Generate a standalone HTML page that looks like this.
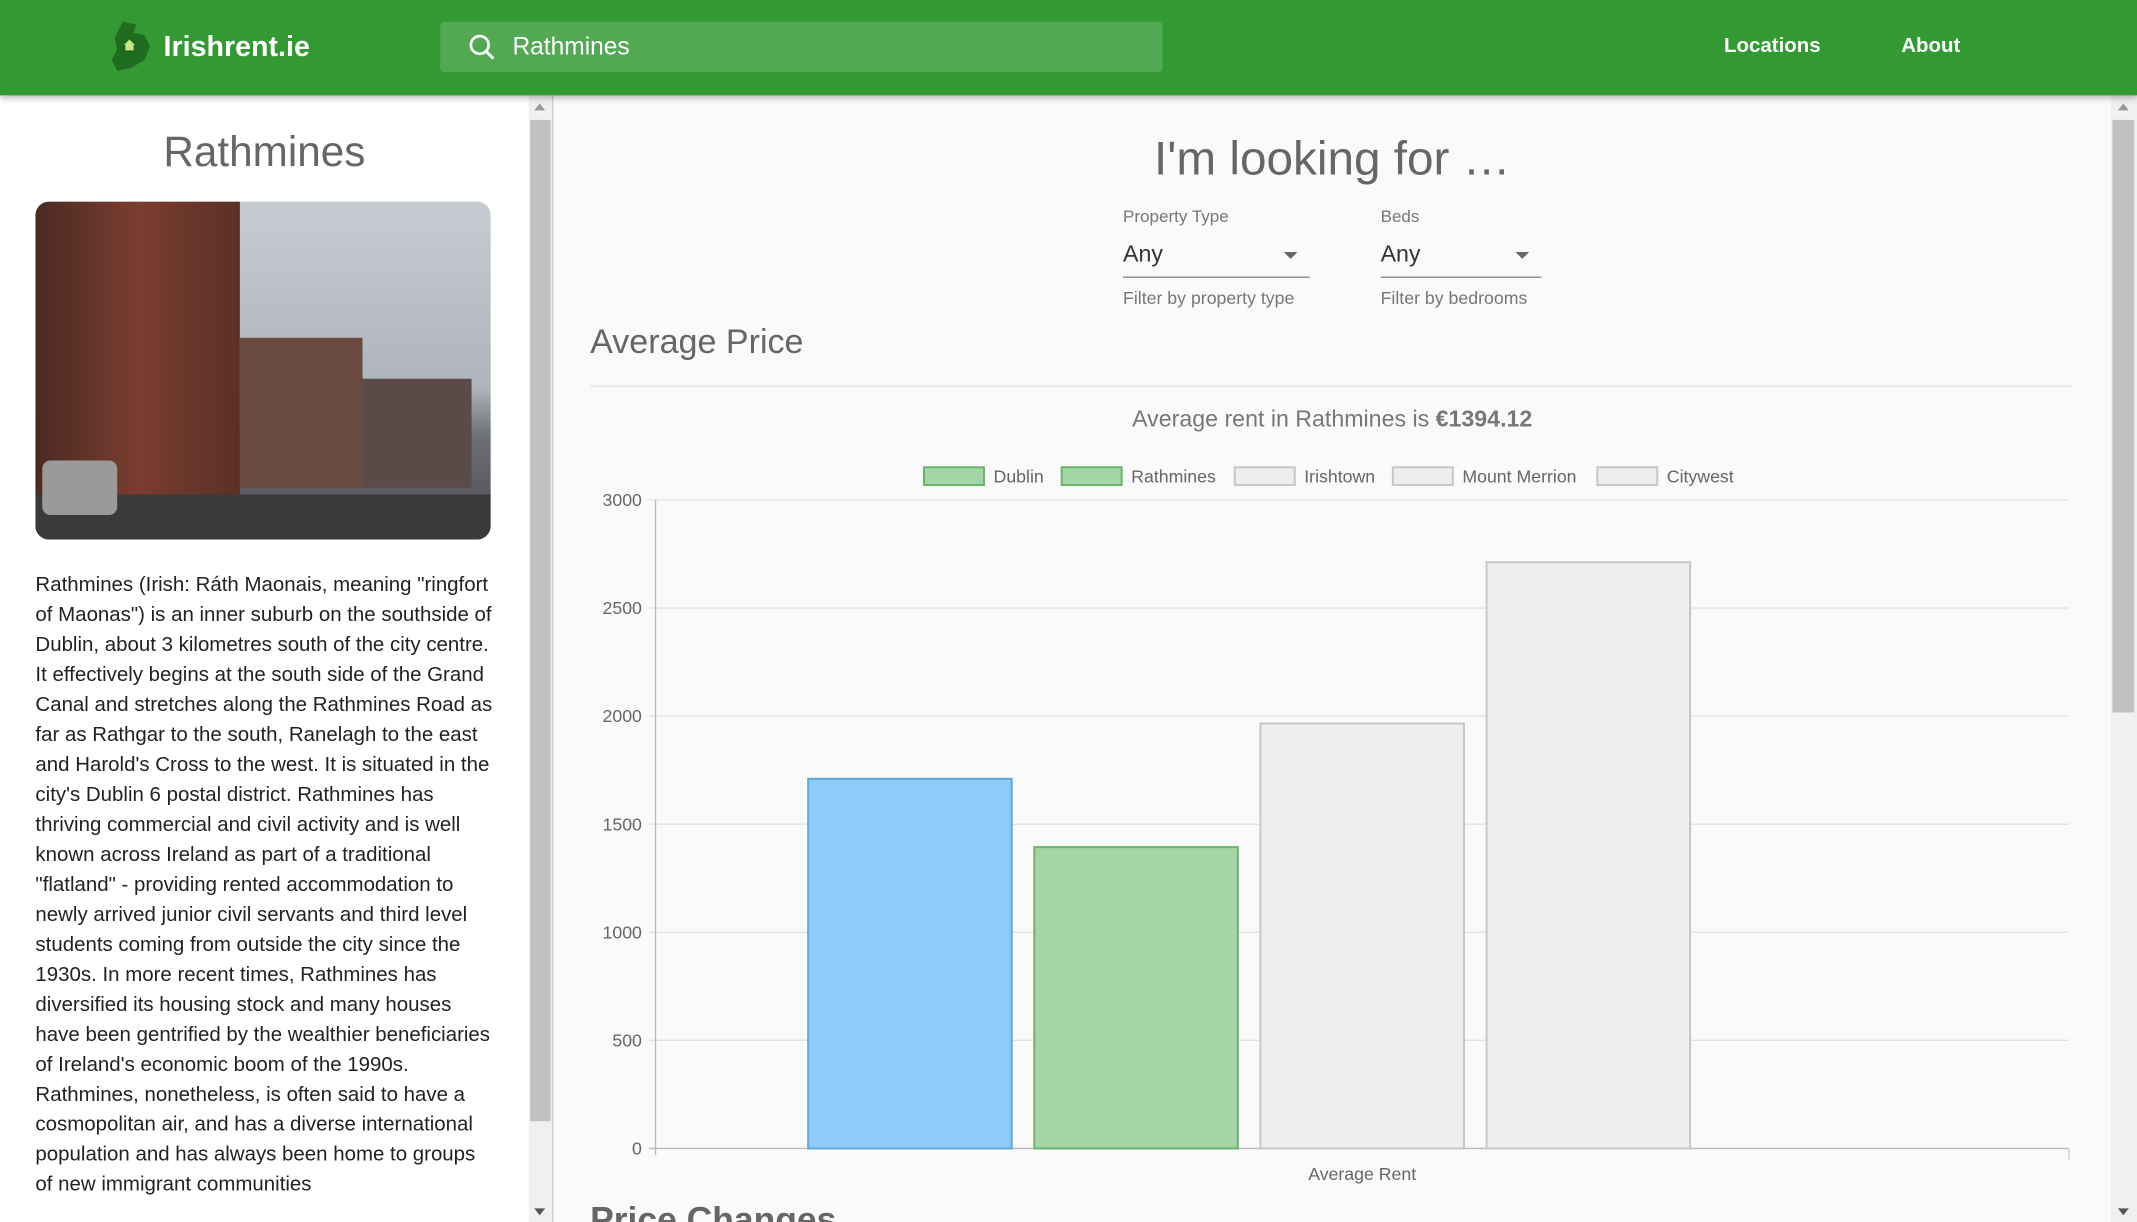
<!DOCTYPE html>
<html><head><meta charset="utf-8"><style>
html,body{margin:0;padding:0;width:2137px;height:1222px;overflow:hidden;background:#fafafa;font-family:"Liberation Sans",sans-serif}
#wrap{position:absolute;left:0;top:0;width:1568px;height:897px;transform:scale(1.36288,1.36232);transform-origin:0 0;overflow:hidden}
.abs{position:absolute}
</style></head><body>
<div id="wrap">
<div class="abs" style="left:0;top:0;width:1568px;height:70px;background:#339933;box-shadow:0 2px 5px rgba(0,0,0,.3);z-index:2">
  <div class="abs" style="left:80px;top:14px;width:180px;height:40px">
    <svg width="34" height="40" viewBox="0 0 34 40"><path d="M10 2 L20 4 L18 10 L26 12 L30 20 L26 30 L16 36 L6 38 L2 30 L6 22 L4 14 Z" fill="#1f6b1f"/><path d="M15 15 L19 19 L18 19 L18 23 L12 23 L12 19 L11 19 Z" fill="#c8e682"/></svg>
    <span class="abs" style="left:40px;top:9px;color:#fff;font-weight:bold;font-size:21px">Irishrent.ie</span>
  </div>
  <div class="abs" style="left:323px;top:16px;width:530px;height:37px;background:#53a853;border-radius:3px">
    <svg class="abs" style="left:20px;top:8px" width="22" height="22" viewBox="0 0 22 22"><circle cx="9" cy="9" r="6.5" stroke="#fff" stroke-width="2" fill="none"/><line x1="14" y1="14" x2="19" y2="19" stroke="#fff" stroke-width="2.2"/></svg>
    <span class="abs" style="left:53px;top:8px;color:#fff;font-size:18px">Rathmines</span>
  </div>
  <span class="abs" style="left:1265px;top:25px;color:#fff;font-weight:bold;font-size:15px">Locations</span>
  <span class="abs" style="left:1395px;top:25px;color:#fff;font-weight:bold;font-size:15px">About</span>
</div>
<div class="abs" style="left:0;top:70px;width:388px;height:827px;background:#fff;overflow:hidden">
  <div class="abs" style="left:0;top:24px;width:388px;text-align:center;font-size:31px;color:#666">Rathmines</div>
  <div class="abs" style="left:26px;top:78px;width:334px;height:248px;border-radius:10px;overflow:hidden;background:linear-gradient(#c7ccd2,#aeb4bb 55%,#6b6e73 70%,#4a4b4e)">
    <div class="abs" style="left:0;top:0;width:150px;height:248px;background:linear-gradient(90deg,#4a2a22,#7a3d30 50%,#5a3026)"></div>
    <div class="abs" style="left:150px;top:100px;width:90px;height:110px;background:#6a4a40"></div>
    <div class="abs" style="left:240px;top:130px;width:80px;height:80px;background:#5a4a48"></div>
    <div class="abs" style="left:0;top:215px;width:334px;height:33px;background:#3a3a3c"></div>
    <div class="abs" style="left:5px;top:190px;width:55px;height:40px;background:#9a9a9a;border-radius:6px"></div>
  </div>
  <div class="abs" style="left:26px;top:349px;width:336px;font-size:15px;line-height:22px;color:#222">Rathmines (Irish: Ráth Maonais, meaning "ringfort of Maonas") is an inner suburb on the southside of Dublin, about 3 kilometres south of the city centre. It effectively begins at the south side of the Grand Canal and stretches along the Rathmines Road as far as Rathgar to the south, Ranelagh to the east and Harold's Cross to the west. It is situated in the city's Dublin 6 postal district. Rathmines has thriving commercial and civil activity and is well known across Ireland as part of a traditional "flatland" - providing rented accommodation to newly arrived junior civil servants and third level students coming from outside the city since the 1930s. In more recent times, Rathmines has diversified its housing stock and many houses have been gentrified by the wealthier beneficiaries of Ireland's economic boom of the 1990s. Rathmines, nonetheless, is often said to have a cosmopolitan air, and has a diverse international population and has always been home to groups of new immigrant communities</div>
</div>
<div class="abs" style="left:388px;top:70px;width:17px;height:827px;background:#f0f0f0;border-right:1px solid #ccc"><div class="abs" style="left:1px;top:18px;width:15px;height:735px;background:#c1c1c1"></div><div class="abs" style="left:4px;top:6px;border:4px solid transparent;border-bottom:5px solid #999;border-top:0"></div><div class="abs" style="left:4px;top:817px;border:4px solid transparent;border-top:5px solid #555;border-bottom:0"></div></div>
<div class="abs" style="left:1549px;top:70px;width:19px;height:827px;background:#f0f0f0"><div class="abs" style="left:1px;top:18px;width:16px;height:435px;background:#c1c1c1"></div><div class="abs" style="left:5px;top:6px;border:4px solid transparent;border-bottom:5px solid #999;border-top:0"></div><div class="abs" style="left:5px;top:817px;border:4px solid transparent;border-top:5px solid #555;border-bottom:0"></div></div>
<div class="abs" style="left:406px;top:97px;width:1143px;text-align:center;font-size:35px;color:#666">I'm looking for …</div>
<div class="abs" style="left:824px;top:152px;width:137px;height:80px;font-size:12.5px;color:#777">
  <div>Property Type</div><div style="position:absolute;top:25px;font-size:17px;color:#333">Any</div>
  <div style="position:absolute;left:118px;top:33px;border:5px solid transparent;border-top-color:#666"></div>
  <div style="position:absolute;top:51px;width:137px;border-top:1px solid #888"></div>
  <div style="position:absolute;top:59px;font-size:13px">Filter by property type</div>
</div>
<div class="abs" style="left:1013px;top:152px;width:118px;height:80px;font-size:12.5px;color:#777">
  <div>Beds</div><div style="position:absolute;top:25px;font-size:17px;color:#333">Any</div>
  <div style="position:absolute;left:99px;top:33px;border:5px solid transparent;border-top-color:#666"></div>
  <div style="position:absolute;top:51px;width:118px;border-top:1px solid #888"></div>
  <div style="position:absolute;top:59px;font-size:13px">Filter by bedrooms</div>
</div>
<div class="abs" style="left:433px;top:237px;font-size:25px;color:#666">Average Price</div>
<div class="abs" style="left:433px;top:283px;width:1088px;border-top:1px solid #e4e4e4"></div>
<div class="abs" style="left:406px;top:298px;width:1143px;text-align:center;font-size:17px;color:#777">Average rent in Rathmines is <b>€1394.12</b></div>
<svg class="abs" id="chart" style="left:0;top:0" width="1568" height="897"></svg>
<div class="abs" style="left:433px;top:880px;font-size:26px;color:#666;font-weight:bold">Price Changes</div>
</div>
<script>
const categories=["Average Rent"];
const seriesNames=["Dublin","Rathmines","Irishtown","Mount Merrion","Citywest"];
const seriesValues=[1710,1394,1966,2712,0];
const yTicks=[0,500,1000,1500,2000,2500,3000];
const fills=["#90caf9","#a5d6a7","#eeeeee","#eeeeee","#eeeeee"];
const strokes=["#5ea8e0","#6ab46c","#c8c8c8","#c8c8c8","#c8c8c8"];
const legendFills=["#a5d6a7","#a5d6a7","#eeeeee","#eeeeee","#eeeeee"];
const legendStrokes=["#6ab46c","#6ab46c","#c8c8c8","#c8c8c8","#c8c8c8"];
const NS="http://www.w3.org/2000/svg";
const svg=document.getElementById('chart');
const X0=481,X1=1518,Y0=843,Y1=367,yMax=3000;
const y=v=>Y0-(v/yMax)*(Y0-Y1);
function mk(t,a){const e=document.createElementNS(NS,t);for(const k in a)e.setAttribute(k,a[k]);svg.appendChild(e);return e;}
yTicks.forEach(t=>{
  const l=mk('line',{x1:X0-5,x2:X1,y1:y(t),y2:y(t),stroke:t===0?'#bbb':'#e2e2e2'});
  
  
  const tx=mk('text',{x:X0-10,y:y(t)+4.5,'text-anchor':'end','font-size':13,fill:'#666','font-family':'Liberation Sans'});
  tx.textContent=t;
  
  
});
const ax=mk('line',{x1:X0,x2:X0,y1:Y1,y2:Y0+5,stroke:'#bbb'});


mk('line',{x1:X1,x2:X1,y1:Y0,y2:Y0+8,stroke:'#ccc'});
const catW=(X1-X0)/categories.length;
categories.forEach((c,ci)=>{
  const inner=catW*0.8,slot=inner/seriesNames.length,bw=slot*0.9;
  seriesValues.forEach((v,i)=>{
    if(v<=0)return;
    const x=X0+ci*catW+catW*0.1+i*slot+(slot-bw)/2;
    const r=mk('rect',{x:x,y:y(v),width:bw,height:Y0-y(v),fill:fills[i],stroke:strokes[i],'stroke-width':1.5});
    
    
  });
  const t=mk('text',{x:X0+ci*catW+catW/2,y:866,'text-anchor':'middle','font-size':13,fill:'#666','font-family':'Liberation Sans'});
  t.textContent=c;
  
  
});
const lx=[678,779,906,1022,1172];
seriesNames.forEach((n,i)=>{
  const g=document.createElementNS(NS,'g');svg.appendChild(g);
  
  
  const r=document.createElementNS(NS,'rect');
  [['x',lx[i]],['y',343],['width',44],['height',13],['fill',legendFills[i]],['stroke',legendStrokes[i]],['stroke-width',1.5]].forEach(a=>r.setAttribute(a[0],a[1]));
  g.appendChild(r);
  const t=document.createElementNS(NS,'text');
  [['x',lx[i]+51],['y',354],['font-size',13],['fill','#666'],['font-family','Liberation Sans']].forEach(a=>t.setAttribute(a[0],a[1]));
  t.textContent=n;g.appendChild(t);
});
</script>
</body></html>
